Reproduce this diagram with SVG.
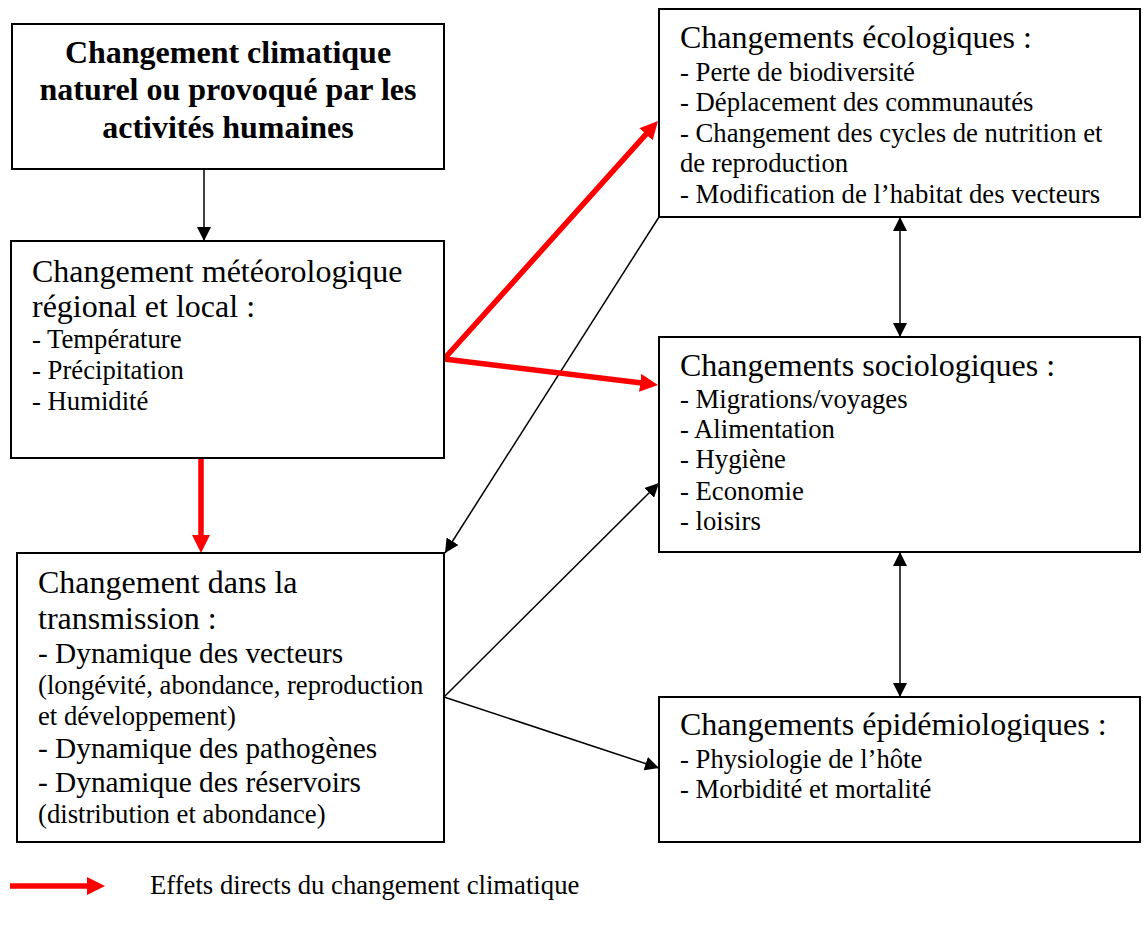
<svg xmlns="http://www.w3.org/2000/svg" width="1143" height="929" viewBox="0 0 1143 929">
  <style>
    .box { fill: #fff; stroke: #000; stroke-width: 2; }
    text { font-family: "Liberation Serif", "Times New Roman", serif; fill: #000; }
    .title { font-size: 32px; font-weight: bold; text-anchor: middle; }
    .head { font-size: 32px; }
    .item { font-size: 26.7px; }
    .item11 { font-size: 29.3px; }
    .thin { stroke: #000; stroke-width: 1.5; fill: none; }
    .red { stroke: #ff0000; stroke-width: 5.5; fill: none; }
  </style>
  <defs>
    <marker id="ah" markerUnits="userSpaceOnUse" markerWidth="14" markerHeight="14" refX="14" refY="7" orient="auto-start-reverse">
      <path d="M0,0 L14,7 L0,14 z" fill="#000"/>
    </marker>
    <marker id="ahRed" markerUnits="userSpaceOnUse" markerWidth="18" markerHeight="18" refX="8" refY="9" orient="auto">
      <path d="M0,0 L18,9 L0,18 z" fill="#ff0000"/>
    </marker>
  </defs>

  <!-- connectors -->
  <g id="connectors">
    <line class="thin" x1="204" y1="169" x2="204" y2="241" marker-end="url(#ah)"/>
    <line class="thin" x1="659" y1="217" x2="445" y2="553" marker-end="url(#ah)"/>
    <line class="thin" x1="444" y1="697" x2="659" y2="483" marker-end="url(#ah)"/>
    <line class="thin" x1="444" y1="697" x2="659" y2="768" marker-end="url(#ah)"/>
    <line class="thin" x1="900" y1="217" x2="900" y2="337" marker-start="url(#ah)" marker-end="url(#ah)"/>
    <line class="thin" x1="900" y1="552" x2="900" y2="697" marker-start="url(#ah)" marker-end="url(#ah)"/>
    <line class="red" x1="444" y1="359" x2="651.3" y2="128.4" marker-end="url(#ahRed)"/>
    <line class="red" x1="444" y1="359" x2="648.1" y2="383.8" marker-end="url(#ahRed)"/>
    <line class="red" x1="201" y1="458" x2="201" y2="543" marker-end="url(#ahRed)"/>
  </g>

  <!-- climate change source -->
  <g id="climat">
    <rect class="box" x="12" y="24" width="432" height="145"/>
    <text class="title" x="228" y="63">Changement climatique</text>
    <text class="title" x="228" y="100">naturel ou provoqué par les</text>
    <text class="title" x="228" y="138">activités humaines</text>
  </g>

  <!-- weather change -->
  <g id="meteo">
    <rect class="box" x="11" y="241" width="433" height="217"/>
    <text class="head" x="32" y="282">Changement météorologique</text>
    <text class="head" x="32" y="317">régional et local :</text>
    <text class="item" x="32" y="348">- Température</text>
    <text class="item" x="32" y="379">- Précipitation</text>
    <text class="item" x="32" y="410">- Humidité</text>
  </g>

  <!-- transmission -->
  <g id="transmission">
    <rect class="box" x="17" y="553" width="427" height="289"/>
    <text class="head" x="38" y="593">Changement dans la</text>
    <text class="head" x="38" y="629">transmission :</text>
    <text class="item11" x="38" y="663">- Dynamique des vecteurs</text>
    <text class="item" x="38" y="694">(longévité, abondance, reproduction</text>
    <text class="item" x="38" y="725">et développement)</text>
    <text class="item11" x="38" y="758">- Dynamique des pathogènes</text>
    <text class="item11" x="38" y="792">- Dynamique des réservoirs</text>
    <text class="item" x="38" y="823">(distribution et abondance)</text>
  </g>

  <!-- ecological changes -->
  <g id="ecologiques">
    <rect class="box" x="659" y="9" width="481" height="208"/>
    <text class="head" x="680" y="48">Changements écologiques :</text>
    <text class="item" x="680" y="81">- Perte de biodiversité</text>
    <text class="item" x="680" y="111">- Déplacement des communautés</text>
    <text class="item" x="680" y="142">- Changement des cycles de nutrition et</text>
    <text class="item" x="680" y="172">de reproduction</text>
    <text class="item" x="680" y="203">- Modification de l’habitat des vecteurs</text>
  </g>

  <!-- sociological changes -->
  <g id="sociologiques">
    <rect class="box" x="659" y="337" width="481" height="215"/>
    <text class="head" x="680" y="376">Changements sociologiques :</text>
    <text class="item" x="680" y="408">- Migrations/voyages</text>
    <text class="item" x="680" y="438">- Alimentation</text>
    <text class="item" x="680" y="468">- Hygiène</text>
    <text class="item" x="680" y="500">- Economie</text>
    <text class="item" x="680" y="530">- loisirs</text>
  </g>

  <!-- epidemiological changes -->
  <g id="epidemiologiques">
    <rect class="box" x="659" y="697" width="481" height="145"/>
    <text class="head" x="680" y="735">Changements épidémiologiques :</text>
    <text class="item" x="680" y="768">- Physiologie de l’hôte</text>
    <text class="item" x="680" y="798">- Morbidité et mortalité</text>
  </g>

  <!-- legend -->
  <g id="legende">
    <line class="red" x1="10" y1="886" x2="95" y2="886" marker-end="url(#ahRed)"/>
    <text class="item" x="150" y="894">Effets directs du changement climatique</text>
  </g>
</svg>
